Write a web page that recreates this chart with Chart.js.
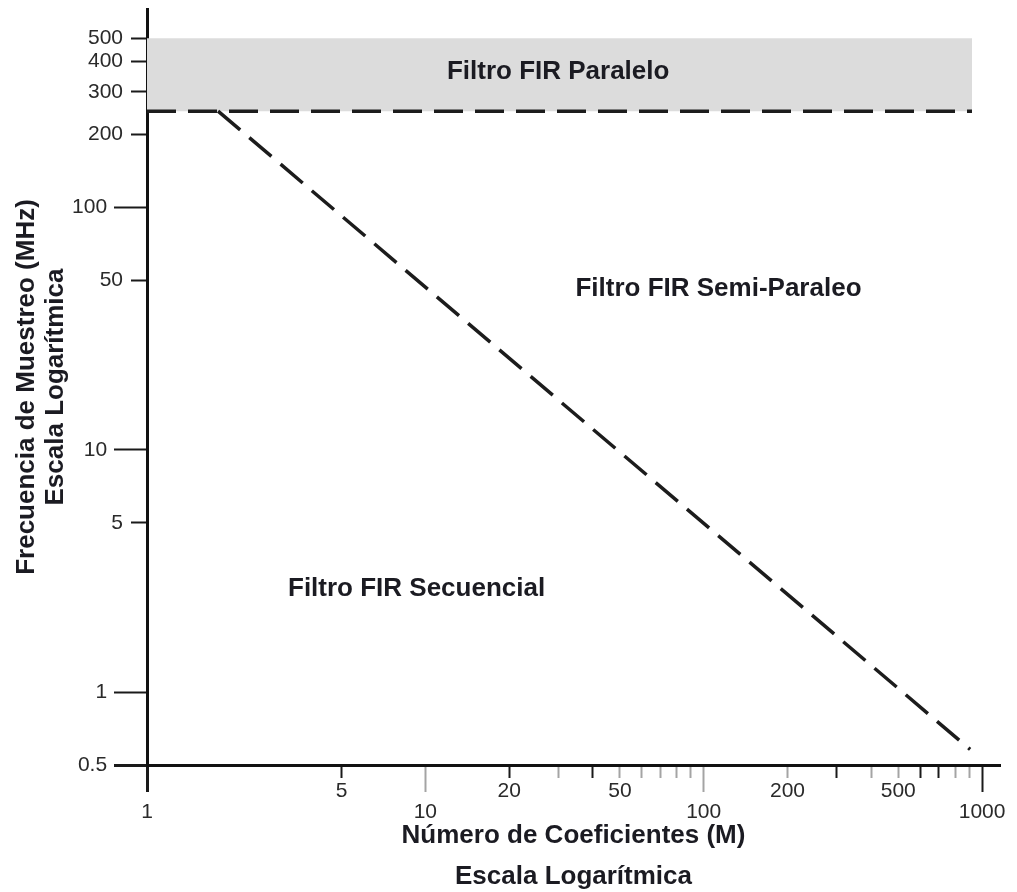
<!DOCTYPE html>
<html lang="es">
<head>
<meta charset="utf-8">
<title>Filtros FIR - Frecuencia vs Coeficientes</title>
<script src="https://cdn.jsdelivr.net/npm/chart.js@4.4.1/dist/chart.umd.min.js"></script>
<style>
  html, body { margin: 0; padding: 0; background: #ffffff; }
</style>
</head>
<body>
<canvas id="firChart" width="1017" height="892"></canvas>
<script>
// Filtros FIR - regiones de implementacion (escala log-log)

const xTickValues = [1, 5, 10, 20, 30, 40, 50, 60, 70, 80, 90, 100, 200, 300, 400, 500, 600, 700, 800, 900, 1000];
const xTickLabels = ["1", "5", "10", "20", "", "", "50", "", "", "", "", "100", "200", "", "", "500", "", "", "", "", "1000"];
const yTickValues = [0.5, 1, 5, 10, 50, 100, 200, 300, 400, 500];
const yTickLabels = ["0.5", "1", "5", "10", "50", "100", "200", "300", "400", "500"];

// frontera semi-paralelo / secuencial
const limitCoefs = [1.8, 906];
const limitFreqs = [250, 0.58];

// banda del filtro paralelo
const parallelCoefs = [1, 920];
const parallelFreqLow = [250, 250];
const parallelFreqHigh = [500, 500];

const regionNames = ["Filtro FIR Paralelo", "Filtro FIR Semi-Paraleo", "Filtro FIR Secuencial"];
const regionCoefs = [30, 113, 9.3];
const regionFreqs = [362, 46, 2.66];

const FONT = "'Liberation Sans', Arial, sans-serif";
const TEXT_COLOR = "#1b1b22";
const LINE_COLOR = "#1c1c1c";

// estilo de las marcas de los ejes
const darkXTicks = [1, 5, 20, 40, 300, 600, 700, 1000];
const longYTicks = [0.5, 1, 10, 100];

function isDecade(value) {
  const l = Math.log10(value);
  return Math.abs(l - Math.round(l)) < 1e-9;
}

function toPoints(xs, ys) {
  return xs.map((x, i) => ({ x: x, y: ys[i] }));
}

const regionLabelsPlugin = {
  id: "regionLabels",
  afterDatasetsDraw(chart) {
    const { ctx } = chart;
    const xScale = chart.scales.x;
    const yScale = chart.scales.y;
    ctx.save();
    ctx.font = "bold 26px " + FONT;
    ctx.fillStyle = TEXT_COLOR;
    ctx.textAlign = "center";
    ctx.textBaseline = "middle";
    regionNames.forEach((name, i) => {
      ctx.fillText(
        name,
        xScale.getPixelForValue(regionCoefs[i]),
        yScale.getPixelForValue(regionFreqs[i])
      );
    });
    ctx.restore();
  },
};

function createFirChart() {
  const ctx = document.getElementById("firChart");

  window.firChartInstance = new Chart(ctx.getContext("2d"), {
    type: "line",
    data: {
      datasets: [
        {
          label: "Limite",
          data: toPoints(limitCoefs, limitFreqs),
          borderColor: LINE_COLOR,
          borderWidth: 3.5,
          borderDash: [29, 12],
          pointRadius: 0,
          fill: false,
          tension: 0,
        },
        {
          label: "Paralelo inferior",
          data: toPoints(parallelCoefs, parallelFreqLow),
          borderColor: LINE_COLOR,
          borderWidth: 3.5,
          borderDash: [29, 12],
          pointRadius: 0,
          fill: false,
          tension: 0,
        },
        {
          label: "Paralelo superior",
          data: toPoints(parallelCoefs, parallelFreqHigh),
          borderColor: "rgba(0, 0, 0, 0)",
          borderWidth: 0,
          backgroundColor: "#dcdcdc",
          pointRadius: 0,
          fill: "-1",
          tension: 0,
        },
      ],
    },
    plugins: [regionLabelsPlugin],
    options: {
      responsive: false,
      animation: false,
      devicePixelRatio: 1,
      layout: {
        padding: { left: 0, top: 9, right: 17, bottom: 0 },
      },
      plugins: {
        legend: { display: false },
        tooltip: { enabled: false },
      },
      scales: {
        x: {
          type: "logarithmic",
          min: 1,
          max: 1160,
          z: 1,
          border: { color: "#111111", width: 3 },
          grid: {
            drawOnChartArea: false,
            tickLength: 27,
            tickWidth: (c) => (c.tick && c.tick.value === 1 ? 3 : 2),
            tickColor: (c) =>
              c.tick && darkXTicks.includes(c.tick.value) ? "#1a1a1a" : "#a4a4a4",
            tickBorderDash: (c) =>
              c.tick && isDecade(c.tick.value) ? [] : [11, 100],
          },
          afterBuildTicks: (scale) => {
            scale.ticks = xTickValues.map((v) => ({ value: v }));
          },
          ticks: {
            autoSkip: false,
            maxRotation: 0,
            padding: -11,
            color: "#2a2a2a",
            font: { family: FONT, size: 21, lineHeight: 1 },
            callback: (value, index) => {
              const label = xTickLabels[index];
              return isDecade(xTickValues[index]) ? ["", label] : label;
            },
          },
          title: {
            display: true,
            text: ["Número de Coeficientes (M)", "Escala Logarítmica"],
            color: TEXT_COLOR,
            font: { family: FONT, size: 26, weight: "bold", lineHeight: 41 / 26 },
            padding: { top: 0, bottom: -5 },
          },
          afterFit: (scale) => {
            scale.height = 127;
          },
        },
        y: {
          type: "logarithmic",
          min: 0.5,
          max: 660,
          z: 1,
          border: { color: "#111111", width: 3 },
          grid: {
            drawOnChartArea: false,
            tickLength: 33,
            tickColor: "#1a1a1a",
            tickWidth: (c) => (c.tick && c.tick.value === 0.5 ? 3 : 2),
            tickBorderDash: (c) =>
              c.tick && longYTicks.includes(c.tick.value) ? [] : [0, 17, 100],
          },
          afterBuildTicks: (scale) => {
            scale.ticks = yTickValues.map((v) => ({ value: v }));
          },
          ticks: {
            autoSkip: false,
            padding: -9,
            color: "#2a2a2a",
            font: { family: FONT, size: 21 },
            callback: (value, index) => {
              const label = yTickLabels[index];
              return longYTicks.includes(yTickValues[index])
                ? label + "\u2009  "
                : label;
            },
          },
          title: {
            display: true,
            text: ["Frecuencia de Muestreo (MHz)", "Escala Logarítmica"],
            color: TEXT_COLOR,
            font: { family: FONT, size: 26, weight: "bold", lineHeight: 29 / 26 },
            padding: { top: 12.5, bottom: 0 },
          },
          afterFit: (scale) => {
            scale.width = 147;
          },
        },
      },
    },
  });
}

createFirChart();
</script>
</body>
</html>
